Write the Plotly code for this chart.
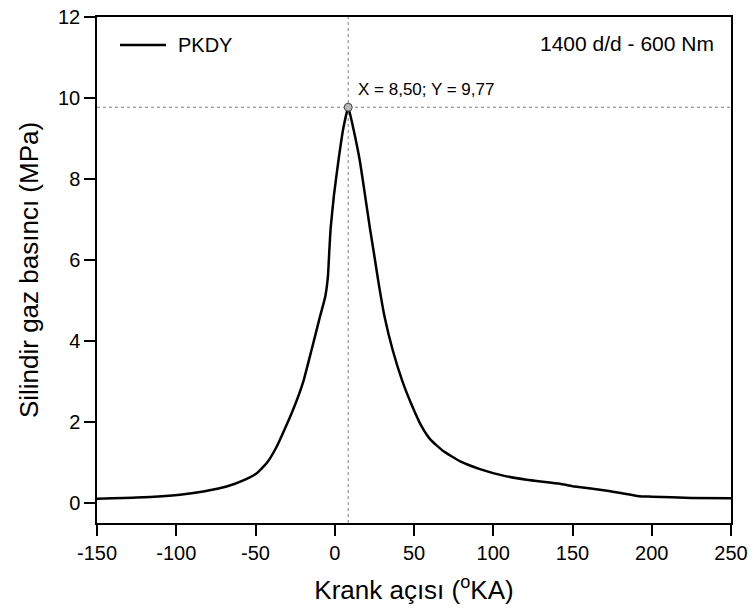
import plotly.graph_objects as go

crank_angle = [-150, -125, -97.6, -82.9, -68.2, -56.6, -49.2, -42.9, -36.6, -27.2, -19.8,
               -14.8, -9.3, -6.0, -4.3, -3.4, -2.6, -0.5, 2.25, 5.4, 8.5,
               11.7, 15.9, 19.1, 22.2, 24.9, 27.7, 31.4, 36.5, 42.7, 48.1, 54.9,
               60.4, 68.7, 79.2, 91.6, 106.3, 121.1, 142.1, 150, 173, 192, 200, 225, 250]
pressure = [0.10, 0.13, 0.20, 0.28, 0.40, 0.57, 0.73, 0.98, 1.39, 2.21, 3.00,
            3.75, 4.60, 5.09, 5.59, 6.25, 6.78, 7.60, 8.43, 9.25, 9.77,
            9.25, 8.43, 7.60, 6.78, 6.12, 5.42, 4.60, 3.78, 3.00, 2.46, 1.88,
            1.56, 1.27, 1.02, 0.83, 0.67, 0.57, 0.47, 0.41, 0.29, 0.16, 0.15, 0.12, 0.11]
peak_x = 8.50
peak_y = 9.77
series_name = "PKDY"
condition_label = "1400 d/d - 600 Nm"
peak_label = "X = 8,50; Y = 9,77"
x_ticks = [-150, -100, -50, 0, 50, 100, 150, 200, 250]
x_tick_labels = ["-150", "-100", "-50", "0", "50", "100", "150", "200", "250"]
y_ticks = [0, 2, 4, 6, 8, 10, 12]
x_range = [-150, 250]
y_range = [-0.5, 12]

fig = go.Figure()
fig.add_trace(go.Scatter(x=crank_angle, y=pressure, mode="lines", name=series_name,
                         showlegend=False,
                         line=dict(color="black", width=2.5, shape="spline", smoothing=0.4)))
# crosshair through the peak
fig.add_shape(type="line", xref="x", yref="y", x0=x_range[0], x1=x_range[1], y0=peak_y, y1=peak_y,
              line=dict(color="#808080", width=1, dash="dot"), layer="below")
fig.add_shape(type="line", xref="x", yref="y", x0=peak_x, x1=peak_x, y0=y_range[0], y1=y_range[1],
              line=dict(color="#808080", width=1, dash="dot"), layer="below")
fig.add_trace(go.Scatter(x=[peak_x], y=[peak_y], mode="markers", showlegend=False,
                         marker=dict(size=8, color="#b8b8b8", line=dict(color="#404040", width=1))))
fig.add_annotation(x=peak_x, y=peak_y, xref="x", yref="y", text=peak_label,
                   showarrow=False, xanchor="left", yanchor="bottom", xshift=8, yshift=6,
                   font=dict(size=17, color="black"))
# legend drawn manually (long line sample)
fig.add_shape(type="line", xref="paper", yref="paper", x0=0.0363, x1=0.1088, y0=0.9447, y1=0.9447,
              line=dict(color="black", width=2.5))
fig.add_annotation(x=0.1246, y=0.9447, xref="paper", yref="paper", text=series_name,
                   showarrow=False, xanchor="left", yanchor="middle",
                   font=dict(size=20, color="black"))
fig.add_annotation(x=0.976, y=0.9486, xref="paper", yref="paper", text=condition_label,
                   showarrow=False, xanchor="right", yanchor="middle",
                   font=dict(size=21, color="black"))

axis_common = dict(showline=True, linecolor="black", linewidth=1.5, mirror=True,
                   ticks="outside", ticklen=11, tickwidth=1.5, tickcolor="black",
                   showgrid=False, zeroline=False, automargin=False,
                   ticklabeloverflow="allow",
                   tickfont=dict(size=20, color="black"))
fig.update_xaxes(range=x_range, tickvals=x_ticks, ticktext=x_tick_labels,
                 title=dict(text="Krank açısı (<sup>o</sup>KA)", font=dict(size=26, color="black"), standoff=18),
                 **axis_common)
fig.update_yaxes(range=y_range, tickvals=y_ticks,
                 title=dict(text="Silindir gaz basıncı (MPa)", font=dict(size=26, color="black"), standoff=12),
                 **axis_common)
fig.update_layout(template="none", width=753, height=613, margin=dict(l=97, r=22, t=17, b=90),
                  plot_bgcolor="white", paper_bgcolor="white",
                  font=dict(family="Liberation Sans, Arial, sans-serif", color="black"),
                  showlegend=False)
# remove the default page margin so the figure sits at the window's corner
fig.write_html("out.html", config={"displayModeBar": False},
               post_script="document.body.style.margin='0';")
